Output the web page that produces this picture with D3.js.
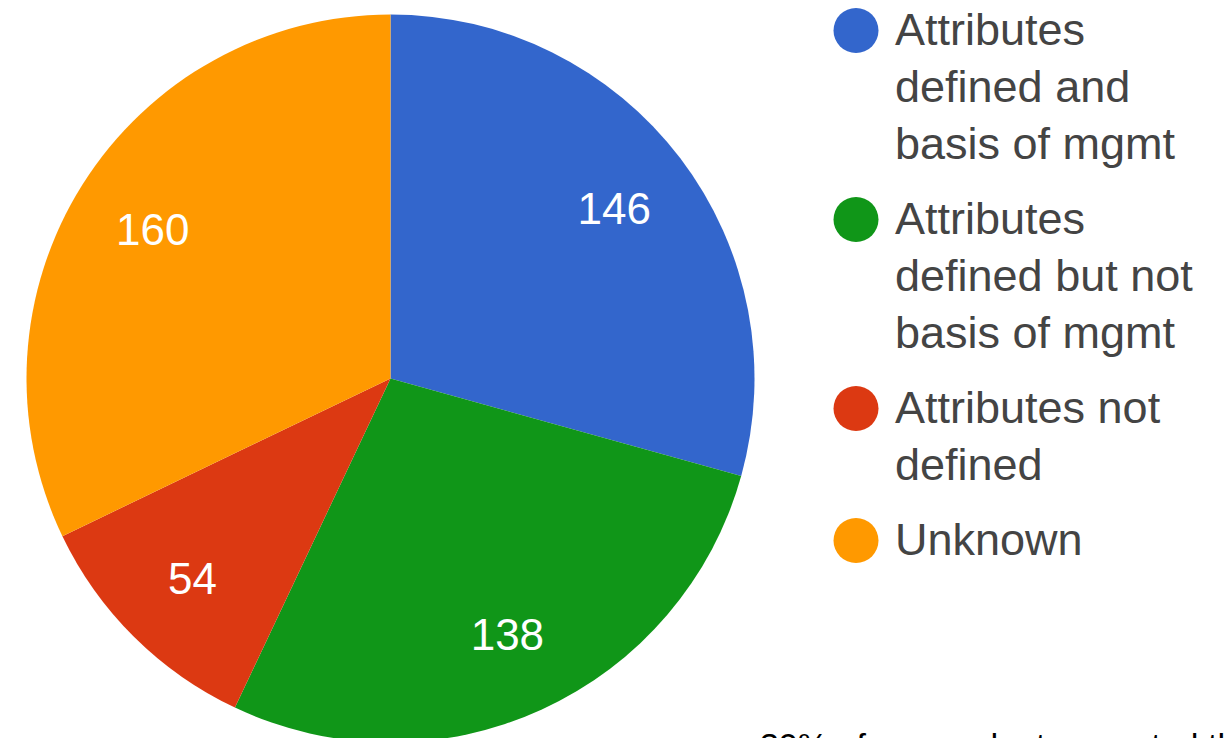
<!DOCTYPE html>
<html>
<head>
<meta charset="utf-8">
<script src="https://cdn.jsdelivr.net/npm/d3@7"></script>
<style>
  html, body { margin: 0; padding: 0; background: #fff; overflow: hidden; }
  svg { display: block; }
</style>
</head>
<body>
<svg id="chart" width="1225" height="738"></svg>
<script>
// ---- data ----
const categories = [
  "Attributes defined and basis of mgmt",
  "Attributes defined but not basis of mgmt",
  "Attributes not defined",
  "Unknown"
];
const legendLines = [
  ["Attributes", "defined and", "basis of mgmt"],
  ["Attributes", "defined but not", "basis of mgmt"],
  ["Attributes not", "defined"],
  ["Unknown"]
];
const values = [146, 138, 54, 160];
const footnote = "39% of respondents reported that";

// ---- styles ----
const palette = ["#3366cc", "#109618", "#dc3912", "#ff9900"];
const font = "'Liberation Sans', Arial, sans-serif";
const cx = 390.5, cy = 378.5, R = 364;

const svg = d3.select("#chart");
const color = d3.scaleOrdinal().domain(categories).range(palette);

const pie = d3.pie().sort(null).value(d => d.value);
const data = categories.map((c, i) => ({ cat: c, value: values[i] }));
const arcs = pie(data);
const arc = d3.arc().innerRadius(0).outerRadius(R);
const labelArc = d3.arc().innerRadius(281).outerRadius(281);

const g = svg.append("g").attr("transform", `translate(${cx},${cy})`);
g.selectAll("path.slice")
  .data(arcs)
  .join("path")
  .attr("class", "slice")
  .attr("d", arc)
  .attr("fill", d => color(d.data.cat));

g.selectAll("text.val")
  .data(arcs)
  .join("text")
  .attr("class", "val")
  .attr("transform", d => `translate(${labelArc.centroid(d)})`)
  .attr("text-anchor", "middle")
  .attr("dy", "0.36em")
  .attr("font-family", font)
  .attr("font-size", 44)
  .attr("fill", "#ffffff")
  .text(d => d.data.value);

// ---- legend ----
const lineH = 57, gap = 18;
let base = 45;
const legend = svg.append("g");
categories.forEach((c, i) => {
  const item = legend.append("g");
  item.append("circle")
    .attr("cx", 856)
    .attr("cy", base - 14.5)
    .attr("r", 22.5)
    .attr("fill", color(c));
  const t = item.append("text")
    .attr("font-family", font)
    .attr("font-size", 45)
    .attr("fill", "#444444");
  legendLines[i].forEach((ln, j) => {
    t.append("tspan")
      .attr("x", 895)
      .attr("y", base + j * lineH)
      .text(ln);
  });
  base += legendLines[i].length * lineH + gap;
});

// ---- footnote (cut off by the frame, as in the reference) ----
svg.append("text")
  .attr("x", 760)
  .attr("y", 757)
  .attr("font-family", font)
  .attr("font-size", 34)
  .attr("fill", "#000000")
  .text(footnote);
</script>
</body>
</html>
